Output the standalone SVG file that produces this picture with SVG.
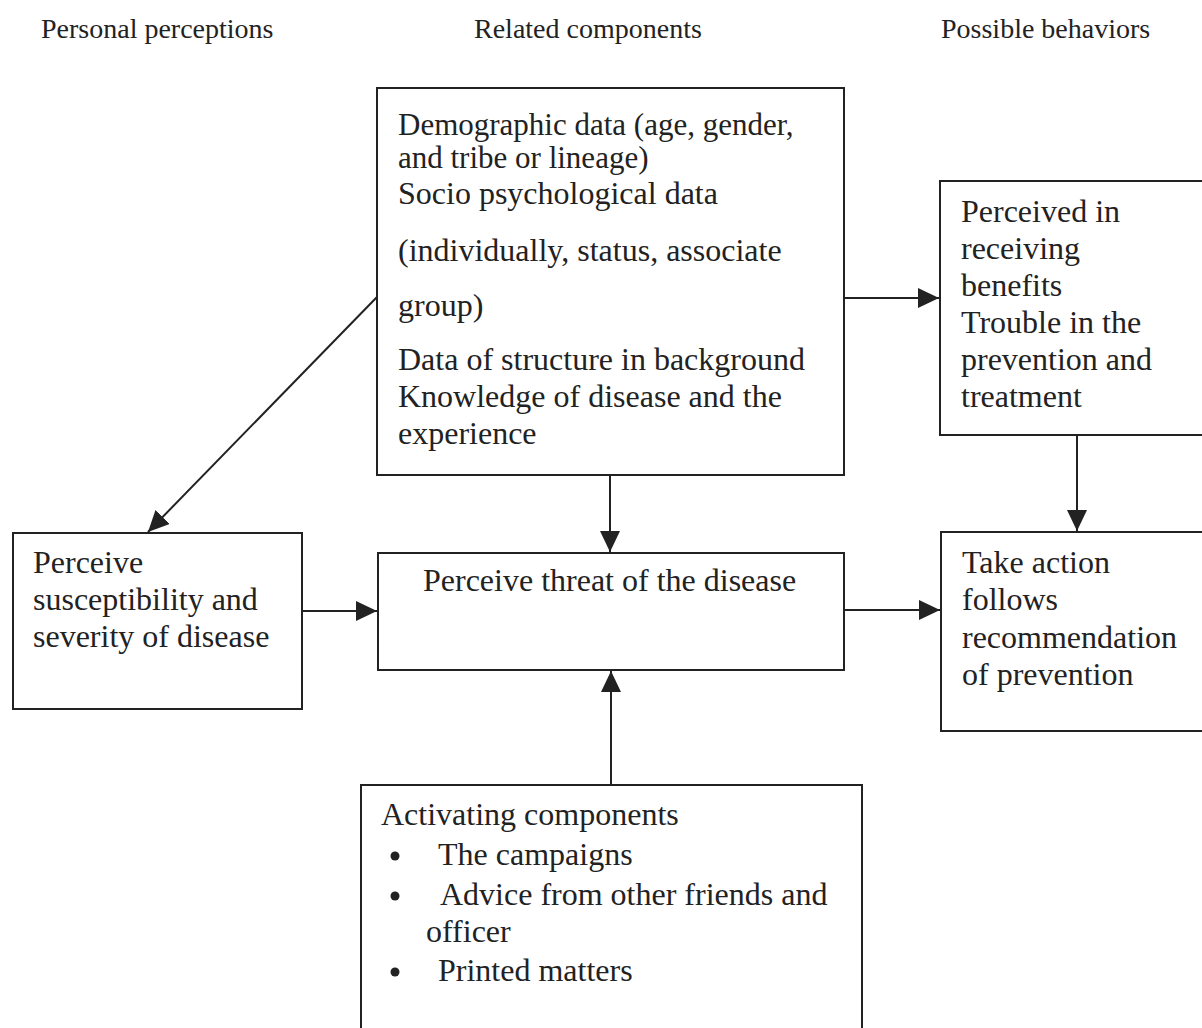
<svg xmlns="http://www.w3.org/2000/svg" width="1202" height="1028" viewBox="0 0 1202 1028">
<style>
.box{fill:none;stroke:#222;stroke-width:2}
.ln{stroke:#222;stroke-width:2;fill:none}
text{font-family:"Liberation Serif","Times New Roman",serif;fill:#222}
.h{font-size:28px}
.t{font-size:32px}
.tt{font-size:31px}
</style>
<defs>
<marker id="ah" markerUnits="userSpaceOnUse" markerWidth="24" markerHeight="22" refX="21" refY="10" orient="auto">
<path d="M0,0 L21,10 L0,20 z" fill="#222"/>
</marker>
</defs>
<rect width="1202" height="1028" fill="#fff"/>
<g id="headers">
<text class="h" x="41" y="38">Personal perceptions</text>
<text class="h" x="474" y="38">Related components</text>
<text class="h" x="941" y="38">Possible behaviors</text>
</g>
<g id="connectors">
<line class="ln" x1="377" y1="297" x2="148" y2="532" marker-end="url(#ah)"/>
<line class="ln" x1="844" y1="298" x2="939" y2="298" marker-end="url(#ah)"/>
<line class="ln" x1="610" y1="475" x2="610" y2="552" marker-end="url(#ah)"/>
<line class="ln" x1="302" y1="611" x2="377" y2="611" marker-end="url(#ah)"/>
<line class="ln" x1="844" y1="610" x2="940" y2="610" marker-end="url(#ah)"/>
<line class="ln" x1="1077" y1="435" x2="1077" y2="531" marker-end="url(#ah)"/>
<line class="ln" x1="611" y1="785" x2="611" y2="671" marker-end="url(#ah)"/>
</g>
<g id="related">
<rect class="box" x="377" y="88" width="467" height="387"/>
<text class="tt" x="398" y="135">Demographic data (age, gender,</text>
<text class="tt" x="398" y="168">and tribe or lineage)</text>
<text class="t" x="398" y="204">Socio psychological data</text>
<text class="t" x="398" y="261">(individually, status, associate</text>
<text class="t" x="398" y="316">group)</text>
<text class="t" x="398" y="370">Data of structure in background</text>
<text class="t" x="398" y="407">Knowledge of disease and the</text>
<text class="t" x="398" y="444">experience</text>
</g>
<g id="benefits">
<rect class="box" x="940" y="181" width="280" height="254"/>
<text class="t" x="961" y="222">Perceived in</text>
<text class="t" x="961" y="259">receiving</text>
<text class="t" x="961" y="296">benefits</text>
<text class="t" x="961" y="333">Trouble in the</text>
<text class="t" x="961" y="370">prevention and</text>
<text class="t" x="961" y="407">treatment</text>
</g>
<g id="susceptibility">
<rect class="box" x="13" y="533" width="289" height="176"/>
<text class="t" x="33" y="573">Perceive</text>
<text class="t" x="33" y="610">susceptibility and</text>
<text class="t" x="33" y="647">severity of disease</text>
</g>
<g id="threat">
<rect class="box" x="378" y="553" width="466" height="117"/>
<text class="t" x="423" y="591">Perceive threat of the disease</text>
</g>
<g id="action">
<rect class="box" x="941" y="532" width="280" height="199"/>
<text class="t" x="962" y="573">Take action</text>
<text class="t" x="962" y="610">follows</text>
<text class="t" x="962" y="648">recommendation</text>
<text class="t" x="962" y="685">of prevention</text>
</g>
<g id="activating">
<rect class="box" x="361" y="785" width="501" height="260"/>
<text class="t" x="381" y="825">Activating components</text>
<circle cx="395" cy="856" r="4.5" fill="#222"/>
<text class="t" x="438" y="865">The campaigns</text>
<circle cx="395" cy="896" r="4.5" fill="#222"/>
<text class="t" x="440" y="905">Advice from other friends and</text>
<text class="t" x="426" y="942">officer</text>
<circle cx="395" cy="972" r="4.5" fill="#222"/>
<text class="t" x="438" y="981">Printed matters</text>
</g>
</svg>
